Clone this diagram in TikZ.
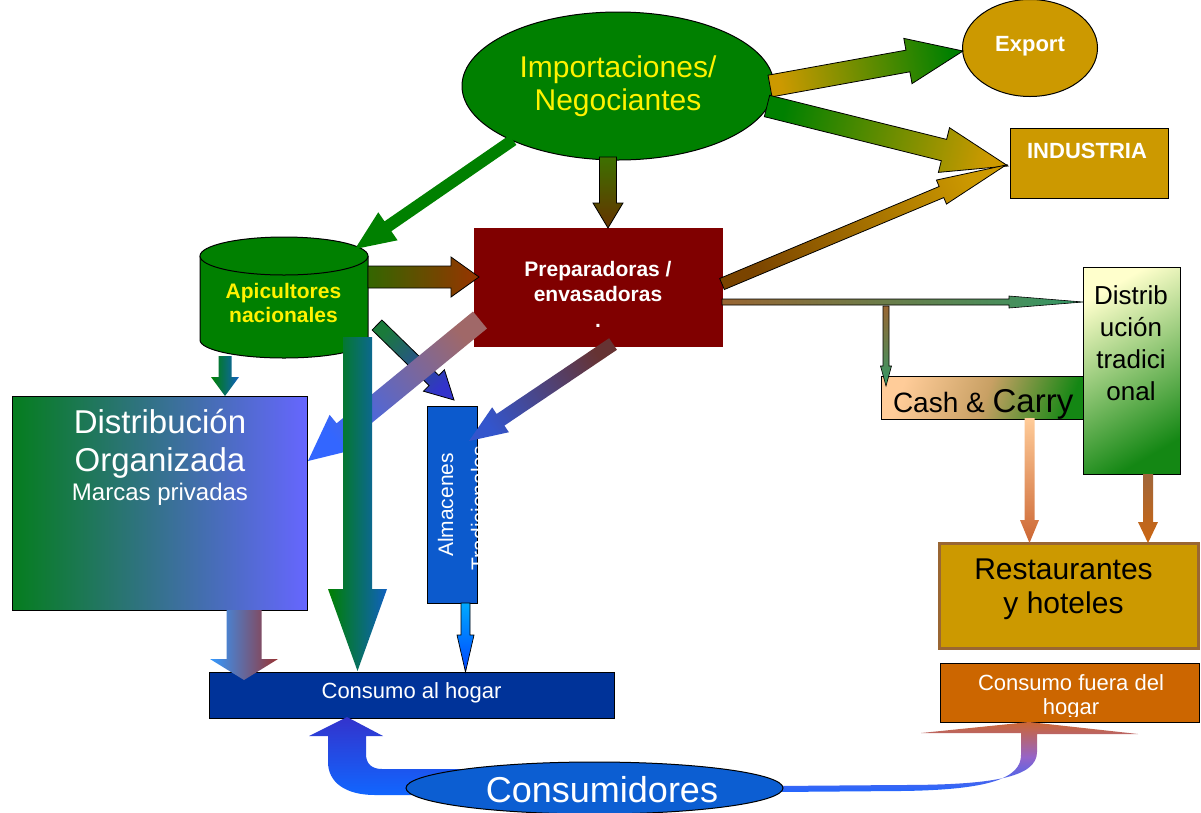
\documentclass[tikz,border=0pt]{standalone}
\usepackage{fontspec}
\setmainfont{Liberation Sans}
\usetikzlibrary{calc,shapes.geometric}

\definecolor{imgreen}{RGB}{0,128,0}
\definecolor{gold}{RGB}{204,153,0}
\definecolor{maroonbox}{RGB}{128,0,0}
\definecolor{navybox}{RGB}{0,51,153}
\definecolor{almblue}{RGB}{12,90,205}
\definecolor{consblue}{RGB}{12,94,210}
\definecolor{orangebox}{RGB}{204,102,0}
\definecolor{brownedge}{RGB}{153,102,51}
\definecolor{orgblue}{RGB}{102,102,255}
\definecolor{orggreen}{RGB}{5,125,30}
\definecolor{peach}{RGB}{255,204,153}
\definecolor{paleyellow}{RGB}{255,255,204}
\definecolor{tradgreen}{RGB}{20,135,20}
\definecolor{olivegreen}{RGB}{61,112,0}
\definecolor{darkbrown}{RGB}{102,51,0}
\definecolor{rustbrown}{RGB}{122,68,0}
\definecolor{leafgreen}{RGB}{51,102,0}
\definecolor{rust}{RGB}{153,51,0}
\definecolor{teal1}{RGB}{26,122,58}
\definecolor{violetblue}{RGB}{51,51,204}
\definecolor{tealblue}{RGB}{16,96,192}
\definecolor{mauve}{RGB}{160,104,104}
\definecolor{skyblue}{RGB}{51,102,255}
\definecolor{plum}{RGB}{102,51,51}
\definecolor{royal}{RGB}{51,85,204}
\definecolor{cyanish}{RGB}{0,170,255}
\definecolor{deepblue}{RGB}{0,68,255}
\definecolor{lightblue}{RGB}{51,153,255}
\definecolor{brickred}{RGB}{153,51,51}
\definecolor{tan1}{RGB}{153,102,51}
\definecolor{seagreen}{RGB}{51,153,102}
\definecolor{terracotta}{RGB}{204,102,51}
\definecolor{copper}{RGB}{160,102,58}
\definecolor{ochre}{RGB}{204,102,17}
\definecolor{brightblue}{RGB}{17,102,255}
\definecolor{curveblue}{RGB}{34,102,255}
\definecolor{cashtan}{RGB}{200,160,100}

% block arrow from #2 to #3: half shaft #4, half head #5, head length #6,
% shaded from #7 (tail) to #8 (head); #1 extra options
\newcommand\barrow[8][]{%
  \pgfmathanglebetweenpoints{\pgfpointanchor{#2}{center}}{\pgfpointanchor{#3}{center}}%
  \pgfmathsetmacro\barsh{\pgfmathresult-90}%
  \coordinate (barN) at ($(#3)!#6!(#2)$);%
  \path[top color=#8, bottom color=#7, shading angle=\barsh, #1]
    ($(#2)!#4!90:(#3)$) -- ($(barN)!#4!90:(#3)$) -- ($(barN)!#5!90:(#3)$)
    -- (#3) -- ($(barN)!#5!-90:(#3)$) -- ($(barN)!#4!-90:(#3)$)
    -- ($(#2)!#4!-90:(#3)$) -- cycle;}

\begin{document}
\begin{tikzpicture}[x=1pt,y=-1pt,
  every node/.style={inner sep=0pt,outer sep=0pt},
  box/.style={draw=black,line width=1pt,anchor=north west,inner sep=0pt},
  outl/.style={draw=black,line width=0.8pt},
  txt/.style={anchor=base,align=center},
  wtext/.style={text=white},
]
\useasboundingbox (0,0) rectangle (1201,812);
\fill[white] (0,0) rectangle (1201,812);

% ---------- boxes and bubbles ----------
\node[ellipse,draw=black,line width=1pt,fill=imgreen,minimum width=312pt,minimum height=148pt] (imp) at (618,86) {};
\node[txt,text=yellow,font=\fontsize{30}{33}\selectfont] (imp1) at (618,77) {Importaciones/};
\node[txt,text=yellow,font=\fontsize{30}{33}\selectfont] (imp2) at (618,110) {Negociantes};

\node[ellipse,draw=black,line width=1pt,fill=gold,minimum width=135pt,minimum height=97pt] (exp) at (1030,48) {};
\node[txt,wtext,font=\fontsize{22}{24}\selectfont\bfseries] (exp1) at (1030,51) {Export};

\node[box,fill=gold,minimum width=158pt,minimum height=70pt] (ind) at (1010,128) {};
\node[txt,wtext,font=\fontsize{22}{24}\selectfont\bfseries] (ind1) at (1087,158) {INDUSTRIA};

\node[anchor=north west,fill=maroonbox,minimum width=249pt,minimum height=119pt] (prep) at (474,228) {};
\node[txt,wtext,font=\fontsize{21}{25}\selectfont\bfseries] (prep1) at (598,276) {Preparadoras /};
\node[txt,wtext,font=\fontsize{21}{25}\selectfont\bfseries] (prep2) at (598,301) {envasadoras};
\node[txt,wtext,font=\fontsize{21}{25}\selectfont\bfseries] (prep3) at (598,327) {.};

% cylinder of the national beekeepers
\fill[imgreen] (200,256) rectangle (368,340);
\fill[imgreen] (284,340) ellipse[x radius=84,y radius=18];
\draw[line width=1pt] (200,256) -- (200,340) arc[start angle=180,end angle=0,x radius=84,y radius=18] -- (368,256);
\draw[line width=1pt,fill=imgreen] (284,256) ellipse[x radius=84,y radius=19];
\node[txt,text=yellow,font=\fontsize{21}{24}\selectfont\bfseries] (apic1) at (283.5,298) {Apicultores};
\node[txt,text=yellow,font=\fontsize{21}{24}\selectfont\bfseries] (apic2) at (283.5,322) {nacionales};

\node[box,left color=orggreen,right color=orgblue,minimum width=295pt,minimum height=214pt] (dorg) at (12,396) {};
\node[txt,wtext,font=\fontsize{33}{38}\selectfont] (dorg1) at (160,433) {Distribución};
\node[txt,wtext,font=\fontsize{33}{38}\selectfont] (dorg2) at (160,471) {Organizada};
\node[txt,wtext,font=\fontsize{24}{28}\selectfont] (dorg3) at (160,500) {Marcas privadas};

\node[box,fill=almblue,minimum width=50pt,minimum height=197pt] (alm) at (427,406) {};
\begin{scope}
  \clip (alm.south west) rectangle (alm.north east);
  \node[rotate=90,anchor=base,wtext,font=\fontsize{21}{25}\selectfont] (alm1) at (453,505) {Almacenes};
  \node[rotate=90,anchor=base,wtext,font=\fontsize{21}{25}\selectfont] (alm2) at (486,508) {Tradicionales};
\end{scope}

\node[box,fill=navybox,minimum width=405pt,minimum height=46pt] (hogar) at (209,672) {};
\node[txt,wtext,font=\fontsize{22}{25}\selectfont] (hogar1) at (411.5,698) {Consumo al hogar};

\node[box,top color=peach,bottom color=tradgreen,middle color=cashtan,shading angle=70,minimum width=209pt,minimum height=43pt] (cash) at (881,376) {};
\node[anchor=base west,font=\fontsize{28}{30}\selectfont] (cash1) at (893,412) {Cash \& {\fontsize{33}{35}\selectfont Carry}};

\node[box,top color=paleyellow,bottom color=tradgreen,shading angle=30,minimum width=97pt,minimum height=207pt] (dtrad) at (1083,267) {};
\node[txt,font=\fontsize{26}{32}\selectfont] (dtrad1) at (1131,304) {Distrib};
\node[txt,font=\fontsize{26}{32}\selectfont] (dtrad2) at (1131,336) {ución};
\node[txt,font=\fontsize{26}{32}\selectfont] (dtrad3) at (1131,368) {tradici};
\node[txt,font=\fontsize{26}{32}\selectfont] (dtrad4) at (1131,400) {onal};

\node[anchor=north west,draw=brownedge,line width=3pt,fill=gold,minimum width=259pt,minimum height=105pt] (rest) at (939,543) {};
\node[txt,font=\fontsize{30}{34}\selectfont] (rest1) at (1063.5,579) {Restaurantes};
\node[txt,font=\fontsize{30}{34}\selectfont] (rest2) at (1063.5,613) {y hoteles};

\node[box,fill=orangebox,minimum width=259pt,minimum height=59pt] (fuera) at (940,663) {};
\begin{scope}
  % the text frame ends a little above the bottom edge of the box
  \clip (fuera.north west) rectangle ($(fuera.south east)+(0,-6)$);
  \node[txt,wtext,font=\fontsize{22}{25}\selectfont] (fuera1) at (1071,690) {Consumo fuera del};
  \node[txt,wtext,font=\fontsize{22}{25}\selectfont] (fuera2) at (1071,714) {hogar};
\end{scope}

% ---------- curved arrows leaving the consumers ----------
\shade[top color=violetblue,bottom color=brightblue]
  (490,769) -- (382,769) .. controls (372,769) and (366,764) .. (366,754) -- (366,736)
  -- (383,736) -- (347,717) -- (309,736) -- (328,736) -- (328,762)
  .. controls (328,782) and (345,795) .. (375,795) -- (490,795) -- cycle;
\shade[top color=terracotta,bottom color=curveblue,middle color={rgb,255:red,150;green,100;blue,200}]
  (775,792) -- (900,791) .. controls (990,790) and (1021,778) .. (1021,755) -- (1021,733)
  -- (921,733) -- (1029,722) -- (1138,734) -- (1037,734) -- (1037,752)
  .. controls (1037,778) and (990,785) .. (900,785) -- (775,786) -- cycle;

\node[ellipse,draw=black,line width=1pt,fill=consblue,minimum width=377pt,minimum height=52pt] (cons) at (594.5,788) {};
\node[txt,wtext,font=\fontsize{36}{40}\selectfont] (cons1) at (602,802) {Consumidores};

% ---------- block arrows ----------
\coordinate (aS) at (770,86);   \coordinate (aE) at (963,51);
\coordinate (bS) at (767,106);  \coordinate (bE) at (1008,166);
\coordinate (cS) at (722,284);  \coordinate (cE) at (1006,165);
\coordinate (dS) at (608,157);  \coordinate (dE) at (608,228);
\coordinate (eS) at (513,140);  \coordinate (eE) at (355,249);
\coordinate (fS) at (368,277);  \coordinate (fE) at (479,277);
\coordinate (gS) at (377,325);  \coordinate (gE) at (454,400);
\coordinate (hS) at (225,356);  \coordinate (hE) at (225,396);
\coordinate (jS) at (480,320);  \coordinate (jE) at (308,461);
\coordinate (iS) at (357.5,337);\coordinate (iE) at (357.5,671);
\coordinate (kS) at (613,344);  \coordinate (kE) at (469,441);
\coordinate (lS) at (465.5,603);\coordinate (lE) at (465.5,672);
\coordinate (mS) at (244,610);  \coordinate (mE) at (244,680);
\coordinate (nS) at (722,302);  \coordinate (nE) at (1083,302);
\coordinate (oS) at (886,306);  \coordinate (oE) at (886,386);
\coordinate (pS) at (1029.5,418);\coordinate (pE) at (1029.5,543);
\coordinate (qS) at (1148,474); \coordinate (qE) at (1148,543);

\barrow[outl]{aS}{aE}{11pt}{23pt}{56pt}{gold}{imgreen}
\barrow[outl]{bS}{bE}{11pt}{23pt}{66pt}{imgreen}{gold}
\barrow[outl]{cS}{cE}{6pt}{13pt}{70pt}{rustbrown}{gold}
\barrow[outl]{dS}{dE}{8.5pt}{15pt}{25pt}{olivegreen}{darkbrown}
\barrow{eS}{eE}{6pt}{17pt}{40pt}{imgreen}{imgreen}
\barrow[outl]{fS}{fE}{11pt}{20pt}{28pt}{leafgreen}{rust}
\barrow[outl]{gS}{gE}{7pt}{15pt}{28pt}{teal1}{violetblue}
\barrow[left color=imgreen,right color=tealblue]{hS}{hE}{6.5pt}{14pt}{19pt}{imgreen}{tealblue}
\barrow{jS}{jE}{11pt}{22pt}{46pt}{mauve}{skyblue}
\barrow[left color=imgreen,right color=tealblue]{iS}{iE}{14.5pt}{29.5pt}{82pt}{imgreen}{tealblue}
\barrow{kS}{kE}{7pt}{15pt}{38pt}{plum}{royal}
\barrow[draw=black,line width=0.7pt]{lS}{lE}{4.5pt}{8.5pt}{37pt}{cyanish}{deepblue}
\barrow[left color=lightblue,right color=brickred]{mS}{mE}{17.5pt}{34pt}{21pt}{lightblue}{brickred}
\barrow[draw=black,line width=0.6pt]{oS}{oE}{3pt}{5.5pt}{20pt}{tan1}{seagreen}
\barrow[draw=black,line width=0.6pt]{nS}{nE}{3pt}{6pt}{74pt}{tan1}{seagreen}
\barrow{pS}{pE}{5pt}{9.5pt}{23pt}{peach}{terracotta}
\barrow{qS}{qE}{5pt}{10pt}{21pt}{copper}{ochre}
\end{tikzpicture}
\end{document}
